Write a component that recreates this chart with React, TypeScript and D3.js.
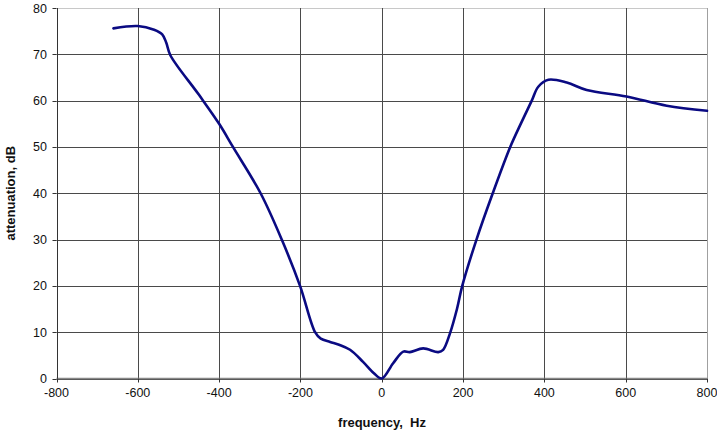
import React from "react";
import * as d3 from "d3";

const freqs = [-660, -600, -560, -540, -530, -520, -450, -400, -366, -298, -246, -201, -164, -150, -127, -105, -78, -46, -20, 0, 28, 53, 69, 102, 139, 151, 168, 185, 198, 233, 273, 316, 343, 369, 385, 410, 455, 504, 602, 701, 800];
const atten = [75.6, 76.1, 75.3, 74.3, 72.5, 69.8, 61.3, 55, 50, 40, 30, 20, 10, 8.6, 7.9, 7.3, 6.2, 3.6, 1.2, 0, 3.3, 5.8, 5.7, 6.5, 5.7, 6.2, 9.8, 15, 20, 30, 40, 50, 55.2, 60, 63, 64.5, 63.9, 62.3, 60.9, 58.9, 57.8];
const xTicks = [-800, -600, -400, -200, 0, 200, 400, 600, 800];
const yTicks = [0, 10, 20, 30, 40, 50, 60, 70, 80];

export default function App() {
  const W = 717, H = 436;
  const x = d3.scaleLinear().domain([-800, 800]).range([56.5, 707]);
  const y = d3.scaleLinear().domain([0, 80]).range([378.5, 8]);
  const pts: [number, number][] = freqs.map((f, i) => [f, atten[i]]);
  const line = d3.line<[number, number]>().x(d => x(d[0])).y(d => y(d[1])).curve(d3.curveCatmullRom.alpha(0.5));
  const font = "Liberation Sans, Arial, sans-serif";
  return (
    <svg width={W} height={H} style={{ position: "absolute", left: 0, top: 0, background: "#fff" }}>
      <rect x={0} y={0} width={W} height={H} fill="#fff" />
      {yTicks.map(t => (
        <line key={"gy" + t} x1={x(-800)} x2={x(800)} y1={Math.round(y(t)) + 0.5} y2={Math.round(y(t)) + 0.5} stroke={t === 80 ? "#c8c8c8" : "#4a4a4a"} strokeWidth={1} />
      ))}
      {xTicks.map(t => (
        <line key={"gx" + t} x1={Math.round(x(t)) + 0.5} x2={Math.round(x(t)) + 0.5} y1={y(80)} y2={y(0)} stroke={t === 800 ? "#a0a0a0" : "#4a4a4a"} strokeWidth={1} />
      ))}
      <line x1={x(-800)} x2={x(800)} y1={y(0)} y2={y(0)} stroke="#888" strokeWidth={1.5} />
      <line x1={Math.round(x(-800)) + 0.5} x2={Math.round(x(-800)) + 0.5} y1={y(80)} y2={y(0)} stroke="#333" strokeWidth={1} />
      {yTicks.map(t => (
        <g key={"ty" + t}>
          <line x1={x(-800) - 4} x2={x(-800)} y1={Math.round(y(t)) + 0.5} y2={Math.round(y(t)) + 0.5} stroke="#333" />
          <text x={47} y={y(t) + 4.5} textAnchor="end" fontFamily={font} fontSize={12.5} fill="#111">{t}</text>
        </g>
      ))}
      {xTicks.map(t => (
        <g key={"tx" + t}>
          <line x1={Math.round(x(t)) + 0.5} x2={Math.round(x(t)) + 0.5} y1={y(0)} y2={y(0) + 4} stroke="#333" />
          <text x={x(t)} y={397} textAnchor="middle" fontFamily={font} fontSize={12.5} fill="#111">{t}</text>
        </g>
      ))}
      <path d={line(pts) || ""} fill="none" stroke="#0a0a82" strokeWidth={2.6} strokeLinejoin="round" strokeLinecap="round" />
      <text x={382} y={427} textAnchor="middle" fontFamily={font} fontSize={13} fontWeight="bold" fill="#111" style={{ whiteSpace: "pre" }}>{"frequency,  Hz"}</text>
      <text transform={`translate(15,${y(40)}) rotate(-90)`} textAnchor="middle" fontFamily={font} fontSize={13} fontWeight="bold" fill="#111">attenuation, dB</text>
    </svg>
  );
}
